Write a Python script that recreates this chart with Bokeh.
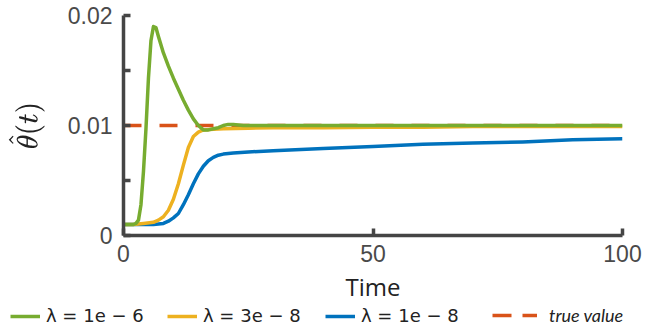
from bokeh.plotting import figure
from bokeh.models import Range1d, FixedTicker, Legend, LegendItem
from bokeh.core.properties import value
from bokeh.embed import file_html
from bokeh.resources import INLINE

# ---- data ----
t_green = [0, 1, 2, 2.5, 3, 3.5, 4, 4.5, 5, 5.5, 6, 6.5, 7, 8, 9, 10, 11, 12, 13, 14,
           15, 16, 17, 18, 19, 20, 21, 22, 24, 27, 30, 40, 50, 60, 70, 80, 90, 100]
v_green = [0.0010, 0.0010, 0.0010, 0.0011, 0.0014, 0.0028, 0.0058, 0.0097, 0.0143, 0.0177,
           0.0190, 0.0189, 0.0181, 0.0166, 0.0154, 0.0143, 0.0133, 0.0123, 0.0114, 0.0106,
           0.0100, 0.0096, 0.0096, 0.0097, 0.0098, 0.0100, 0.0101, 0.0101, 0.0100, 0.0100,
           0.0100, 0.0100, 0.0100, 0.0100, 0.0100, 0.0100, 0.0100, 0.0100]

t_yellow = [0, 2, 4, 6, 7, 8, 9, 10, 11, 12, 13, 14, 15, 16, 18, 20, 25, 30, 40, 50,
            60, 70, 80, 90, 100]
v_yellow = [0.0010, 0.0010, 0.0011, 0.0012, 0.0014, 0.0017, 0.0023, 0.0033, 0.0047, 0.0064,
            0.0080, 0.0090, 0.0094, 0.0096, 0.00965, 0.0097, 0.00975, 0.0098, 0.0098, 0.00985,
            0.00985, 0.0099, 0.0099, 0.0099, 0.0099]

t_blue = [0, 4, 6, 8, 9, 10, 11, 12, 13, 14, 15, 16, 17, 18, 19, 20, 22, 25, 30, 40,
          50, 60, 70, 80, 90, 100]
v_blue = [0.0010, 0.0010, 0.0010, 0.0011, 0.0013, 0.0016, 0.0020, 0.0028, 0.0037, 0.0047,
          0.0056, 0.0063, 0.0068, 0.0071, 0.0073, 0.0074, 0.0075, 0.0076, 0.0077, 0.0079,
          0.0081, 0.0083, 0.0084, 0.0085, 0.0087, 0.0088]

t_true = [0, 100]
v_true = [0.01, 0.01]

labels = ["λ = 1e − 6", "λ = 3e − 8", "λ = 1e − 8", "true value"]
x_ticks = [0, 50, 100]
y_ticks = [0, 0.01, 0.02]
y_minor = [0.005, 0.015]
x_tick_labels = {0: "0", 50: "50", 100: "100"}
y_tick_labels = {0: "0", 0.01: "0.01", 0.02: "0.02"}

GREEN = "#77AC30"
YELLOW = "#EDB120"
BLUE = "#0072BD"
ORANGE = "#D95319"
AXIS = "#454545"

p = figure(width=663, height=305, output_backend="svg", toolbar_location=None,
           x_range=Range1d(0, 100), y_range=Range1d(0, 0.02),
           min_border_left=123, min_border_right=41, min_border_top=15, min_border_bottom=69)
p.grid.visible = False
p.outline_line_color = None
p.background_fill_color = "white"

r_true = p.line(t_true, v_true, line_color=ORANGE, line_width=3.5, line_dash="18 18")
r_blue = p.line(t_blue, v_blue, line_color=BLUE, line_width=3.5, line_join="round")
r_yellow = p.line(t_yellow, v_yellow, line_color=YELLOW, line_width=3.5, line_join="round")
r_green = p.line(t_green, v_green, line_color=GREEN, line_width=3.5, line_join="round")

for ax in (p.xaxis[0], p.yaxis[0]):
    ax.axis_line_color = AXIS
    ax.axis_line_width = 3.5
    ax.major_tick_line_color = AXIS
    ax.major_tick_line_width = 3.5
    ax.minor_tick_line_color = AXIS
    ax.minor_tick_line_width = 3.5
    ax.major_tick_in = 7
    ax.major_tick_out = 0
    ax.minor_tick_in = 7
    ax.minor_tick_out = 0
    ax.major_label_text_font = "Liberation Sans"
    ax.major_label_text_font_size = "23px"
    ax.major_label_text_color = "#4a4a4a"
    ax.axis_label_text_font_style = "normal"
    ax.axis_label_text_color = "#222222"

p.xaxis.ticker = FixedTicker(ticks=x_ticks)
p.xaxis.major_label_overrides = x_tick_labels
p.xaxis.major_label_standoff = 9
p.xaxis.axis_label = "Time"
p.xaxis.axis_label_text_font = "Open Sans"
p.xaxis.axis_label_text_font_size = "24px"
p.xaxis.axis_label_standoff = 5

p.yaxis.ticker = FixedTicker(ticks=y_ticks, minor_ticks=y_minor)
p.yaxis.major_label_overrides = y_tick_labels
p.yaxis.major_label_standoff = 11
p.yaxis.axis_label = r"$$\hat{\theta}(t)$$"
p.yaxis.axis_label_text_font_size = "23px"
p.yaxis.axis_label_standoff = 20

# ---- legend strip below the plot (separate root, no frame alignment) ----
q = figure(width=663, height=26, output_backend="svg", toolbar_location=None,
           x_range=Range1d(0, 1), y_range=Range1d(0, 1), min_border=0,
           x_axis_location=None, y_axis_location=None)
q.grid.visible = False
q.outline_line_color = None
q.background_fill_color = "white"

nan = float("nan")
styles = [(GREEN, None), (YELLOW, None), (BLUE, None), (ORANGE, "19 11")]
proxies = []
for color, dash in styles:
    kw = dict(line_color=color, line_width=3.5)
    if dash:
        kw["line_dash"] = dash
    proxies.append(q.line([nan], [nan], **kw))

x_offsets = [10, 167, 325, 492]
for i, (lab, rend, xoff) in enumerate(zip(labels, proxies, x_offsets)):
    leg = Legend(items=[LegendItem(label=value(lab), renderers=[rend])],
                 location=(xoff, 5), orientation="horizontal",
                 background_fill_alpha=0, border_line_alpha=0, padding=0, margin=0,
                 glyph_width=45 if i == 3 else 30, glyph_height=18, label_height=18,
                 label_standoff=12 if i == 3 else 6,
                 label_text_font_size="18px",
                 label_text_color="#222222",
                 label_text_font="Lato" if i == 3 else "DejaVu Sans",
                 label_text_font_style="italic" if i == 3 else "normal")
    q.add_layout(leg, "center")

open("out.html", "w").write(file_html([p, q], INLINE))
